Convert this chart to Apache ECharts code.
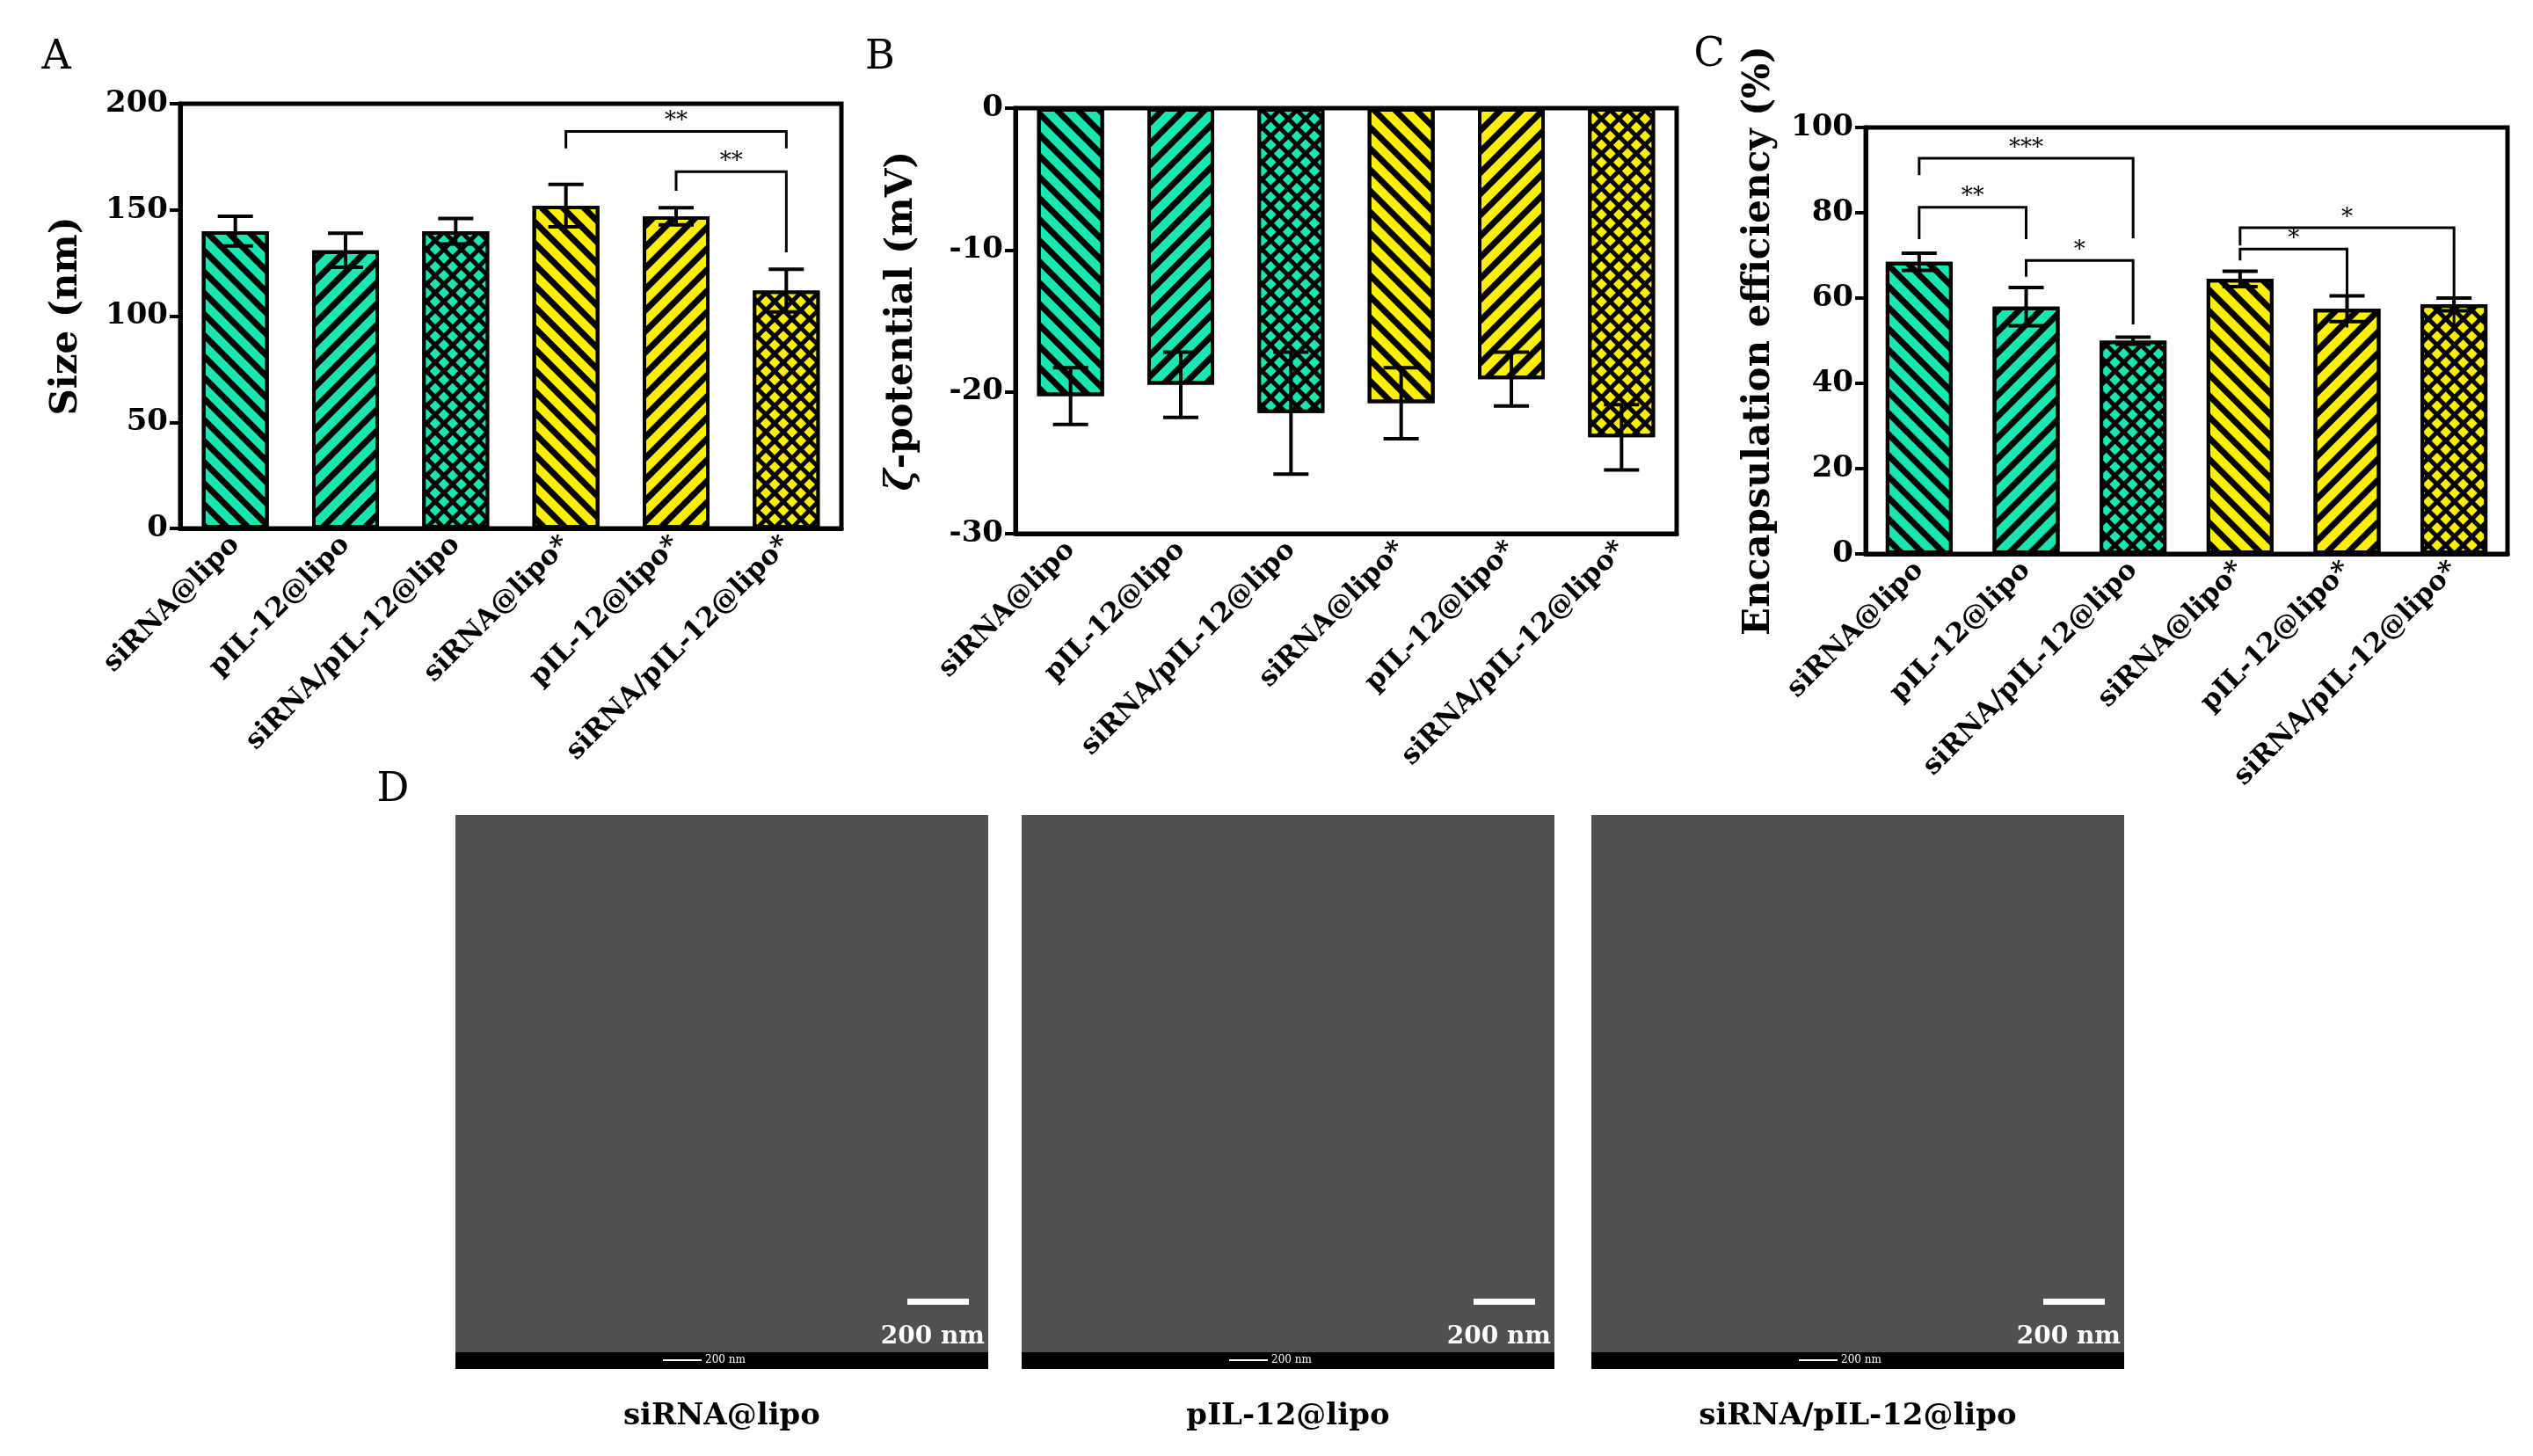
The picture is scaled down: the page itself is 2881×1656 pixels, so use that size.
<!DOCTYPE html>
<html>
<head>
<meta charset="utf-8">
<script src="https://cdn.jsdelivr.net/npm/echarts@6/dist/echarts.min.js"></script>
<style>html,body{margin:0;background:#fff}#main{width:2881px;height:1656px}</style>
</head>
<body>
<div id="main"></div>
<script>
var groups = ["siRNA@lipo", "pIL-12@lipo", "siRNA/pIL-12@lipo", "siRNA@lipo*", "pIL-12@lipo*", "siRNA/pIL-12@lipo*"];
var sizeMean = [140, 131, 140, 152, 147, 112];
var sizeErr = [7, 8, 6, 10, 4, 10];
var zetaMean = [-20.3, -19.5, -21.5, -20.8, -19.1, -23.2];
var zetaErr = [2.0, 2.3, 4.3, 2.5, 1.9, 2.3];
var eeMean = [68.5, 58, 50, 64.5, 57.5, 58.5];
var eeErr = [2.0, 4.5, 0.8, 1.8, 3.0, 1.5];
// brackets: [from, to, top, left leg end, right leg end, label]
var sizeSig = [[3, 5, 187, 179, 179, "**"], [4, 5, 168, 159, 130, "**"]];
var eeSig = [[0, 2, 92.8, 88.8, 74, "***"], [0, 1, 81.3, 73.8, 73.8, "**"], [1, 2, 68.8, 65, 53.8, "*"],
             [3, 5, 76.5, 72.3, 52.3, "*"], [3, 4, 71.5, 68.8, 53.1, "*"]];
var semLabels = ["siRNA@lipo", "pIL-12@lipo", "siRNA/pIL-12@lipo"];

var TEAL = "#19e6b0", YELLOW = "#fff000";
var FONT = "DejaVu Serif";
var colors = [TEAL, TEAL, TEAL, YELLOW, YELLOW, YELLOW];

function styleFor(i) {
    var c = colors[i];
    var kind = i % 3;
    if (kind === 2) {
        return {color: "#000", borderColor: "#000", borderWidth: 4,
            decal: {symbol: "rect", symbolSize: 1, dashArrayX: [9, 5], dashArrayY: [9, 5], rotation: Math.PI / 4, color: c}};
    }
    return {color: c, borderColor: "#000", borderWidth: 4,
        decal: {symbol: "rect", symbolSize: 1, dashArrayX: [1, 0], dashArrayY: [7, 10],
            rotation: kind === 0 ? Math.PI / 4 : -Math.PI / 4, color: "#000"}};
}

var grids = [
    {left: 205, top: 118, width: 752, height: 483},
    {left: 1155, top: 123, width: 752, height: 484},
    {left: 2122, top: 145, width: 730, height: 485}
];
var yCfg = [
    {min: 0, max: 200, interval: 50, name: "Size (nm)", gap: 108},
    {min: -30, max: 0, interval: 10, name: "{i|ζ}-potential (mV)", gap: 108},
    {min: 0, max: 100, interval: 20, name: "Encapsulation efficiency (%)", gap: 100}
];
var means = [sizeMean, zetaMean, eeMean];
var errs = [sizeErr, zetaErr, eeErr];
var sigs = [sizeSig, [], eeSig];

var option = {
    animation: false,
    grid: grids.map(function (g) {
        return Object.assign({show: true, borderColor: "#000", borderWidth: 5, containLabel: false}, g);
    }),
    xAxis: [], yAxis: [], series: [],
    graphic: []
};

grids.forEach(function (g, k) {
    option.xAxis.push({
        type: "category", gridIndex: k, data: groups, position: "bottom",
        axisLine: {show: true, onZero: false, lineStyle: {color: "#000", width: 5}},
        axisTick: {show: false},
        axisLabel: {rotate: 45, interval: 0, margin: 14, color: "#000", fontFamily: FONT, fontWeight: "bold", fontSize: 31}
    });
    option.yAxis.push({
        type: "value", gridIndex: k, min: yCfg[k].min, max: yCfg[k].max, interval: yCfg[k].interval,
        name: yCfg[k].name, nameLocation: "middle", nameGap: yCfg[k].gap,
        nameTextStyle: {color: "#000", fontFamily: FONT, fontSize: 42, fontWeight: "bold",
            rich: {i: {fontStyle: "italic", fontFamily: FONT, fontSize: 42, fontWeight: "bold"}}},
        splitLine: {show: false},
        axisLine: {show: true, lineStyle: {color: "#000", width: 5}},
        axisTick: {show: true, length: 12, lineStyle: {width: 4, color: "#000"}},
        axisLabel: {color: "#000", fontFamily: FONT, fontWeight: "bold", fontSize: 34, margin: 14}
    });
    option.series.push({
        type: "bar", xAxisIndex: k, yAxisIndex: k, barWidth: 76,
        data: means[k].map(function (v, i) { return {value: v, itemStyle: styleFor(i)}; })
    });
    option.series.push({
        type: "custom", xAxisIndex: k, yAxisIndex: k, z: 5,
        data: means[k].map(function (v, i) { return [i, v, errs[k][i]]; }),
        renderItem: function (params, api) {
            var x = api.value(0), v = api.value(1), e = api.value(2);
            var a = api.coord([x, v + e]), b = api.coord([x, v - e]);
            var st = {stroke: "#000", lineWidth: 4};
            return {type: "group", children: [
                {type: "line", shape: {x1: a[0], y1: a[1], x2: b[0], y2: b[1]}, style: st},
                {type: "line", shape: {x1: a[0] - 20, y1: a[1], x2: a[0] + 20, y2: a[1]}, style: st},
                {type: "line", shape: {x1: b[0] - 20, y1: b[1], x2: b[0] + 20, y2: b[1]}, style: st}
            ]};
        }
    });
    if (sigs[k].length) {
        option.series.push({
            type: "custom", xAxisIndex: k, yAxisIndex: k, z: 6,
            data: sigs[k],
            renderItem: function (params, api) {
                var s = sigs[k][params.dataIndex];
                var pl = api.coord([s[0], s[3]]), pr = api.coord([s[1], s[4]]);
                var tl = api.coord([s[0], s[2]]), tr = api.coord([s[1], s[2]]);
                return {type: "group", children: [
                    {type: "polyline", shape: {points: [pl, tl, tr, pr]}, style: {stroke: "#000", lineWidth: 3, fill: null}},
                    {type: "text", x: (tl[0] + tr[0]) / 2, y: tl[1] + 2,
                        style: {text: s[5], fill: "#000", font: "26px " + FONT, textAlign: "center", textVerticalAlign: "bottom"}}
                ]};
            }
        });
    }
});

// panel letters
[["A", 64, 66], ["B", 1001, 66], ["C", 1944, 63], ["D", 447, 899]].forEach(function (p) {
    option.graphic.push({type: "text", x: p[1], y: p[2], style: {text: p[0], fill: "#000", font: "46px " + FONT, textAlign: "center", textVerticalAlign: "middle"}});
});

// TEM panels (placeholders for micrographs)
var semX = [518, 1162, 1810];
semX.forEach(function (x0, i) {
    var w = 606;
    option.graphic.push({type: "rect", shape: {x: x0, y: 927, width: w, height: 611}, style: {fill: "#505050"}});
    option.graphic.push({type: "rect", shape: {x: x0, y: 1538, width: w, height: 19}, style: {fill: "#000"}});
    option.graphic.push({type: "rect", shape: {x: x0 + w - 92, y: 1477, width: 70, height: 7}, style: {fill: "#fff"}});
    option.graphic.push({type: "text", x: x0 + w - 4, y: 1521, style: {text: "200 nm", fill: "#fff", font: "bold 28px " + FONT, textAlign: "right", textVerticalAlign: "middle"}});
    option.graphic.push({type: "line", shape: {x1: x0 + 236, y1: 1547, x2: x0 + 280, y2: 1547}, style: {stroke: "#fff", lineWidth: 2}});
    option.graphic.push({type: "text", x: x0 + 284, y: 1547, style: {text: "200 nm", fill: "#fff", font: "12px " + FONT, textVerticalAlign: "middle"}});
    option.graphic.push({type: "text", x: x0 + w / 2, y: 1611, style: {text: semLabels[i], fill: "#000", font: "bold 34px " + FONT, textAlign: "center", textVerticalAlign: "middle"}});
});

var chart = echarts.init(document.getElementById("main"));
chart.setOption(option);
</script>
</body>
</html>
